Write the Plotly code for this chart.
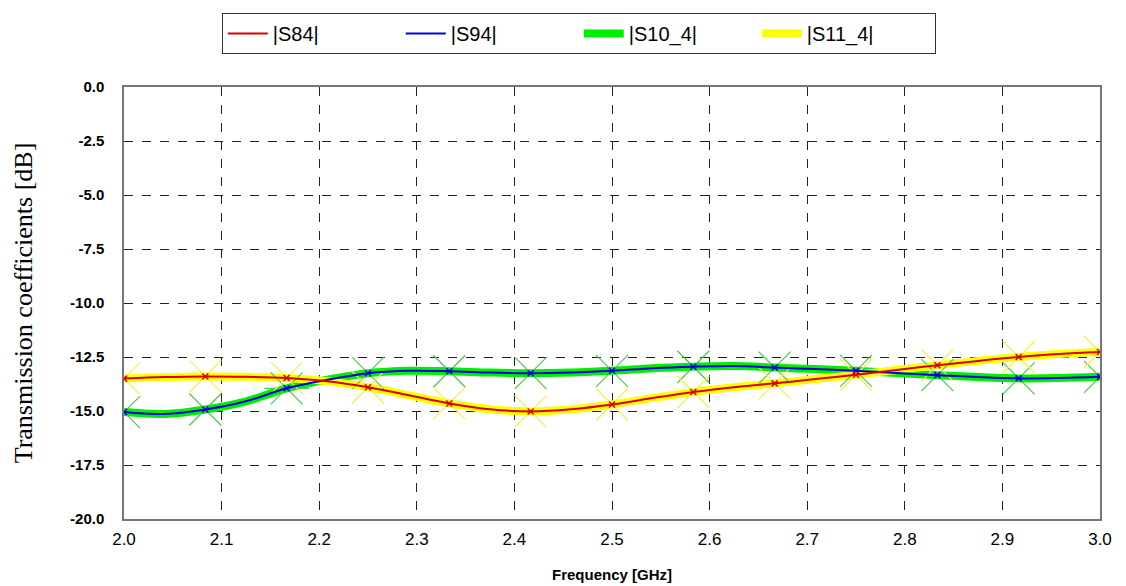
import plotly.graph_objects as go

freq = [2.0 + i / 24 for i in range(25)]
s84 = [-13.50, -13.43, -13.40, -13.42, -13.47, -13.62, -13.90, -14.27, -14.65, -14.92,
       -15.02, -14.92, -14.70, -14.40, -14.12, -13.90, -13.72, -13.52, -13.32, -13.10,
       -12.88, -12.68, -12.50, -12.36, -12.27]
s94 = [-15.05, -15.14, -14.93, -14.55, -13.95, -13.55, -13.25, -13.14, -13.16, -13.22,
       -13.25, -13.22, -13.14, -13.02, -12.95, -12.92, -12.99, -13.06, -13.14, -13.24,
       -13.34, -13.43, -13.49, -13.47, -13.42]
s10_4 = list(s94)
s11_4 = list(s84)

names = ["|S84|", "|S94|", "|S10_4|", "|S11_4|"]
xticks = [2.0, 2.1, 2.2, 2.3, 2.4, 2.5, 2.6, 2.7, 2.8, 2.9, 3.0]
yticks = [0.0, -2.5, -5.0, -7.5, -10.0, -12.5, -15.0, -17.5, -20.0]

fig = go.Figure()

fig.add_trace(go.Scatter(x=freq, y=s10_4, mode="lines", name=names[2], legendrank=3,
                         line=dict(color="#00ee00", width=8, shape="spline")))
fig.add_trace(go.Scatter(x=freq, y=s11_4, mode="lines", name=names[3], legendrank=4,
                         line=dict(color="#ffff00", width=8, shape="spline")))

mk_f = freq[::2]
for vals, col in [(s10_4[::2], "#4cc84c"), (s11_4[::2], "#f2f24a")]:
    for sym in ["x-thin-open", "line-ew-open"]:
        fig.add_trace(go.Scatter(x=mk_f, y=vals, mode="markers", showlegend=False, hoverinfo="skip",
                                 marker=dict(symbol=sym, size=32, color=col,
                                             line=dict(color=col, width=1.2))))

fig.add_trace(go.Scatter(x=freq, y=s94, mode="lines", name=names[1], legendrank=2,
                         line=dict(color="#0000dd", width=2, shape="spline")))
fig.add_trace(go.Scatter(x=freq, y=s84, mode="lines", name=names[0], legendrank=1,
                         line=dict(color="#dd0000", width=2, shape="spline")))
fig.add_trace(go.Scatter(x=mk_f, y=s94[::2], mode="markers", showlegend=False, hoverinfo="skip",
                         marker=dict(symbol="x-thin-open", size=6, color="#0000dd",
                                     line=dict(color="#0000dd", width=1.5))))
fig.add_trace(go.Scatter(x=mk_f, y=s84[::2], mode="markers", showlegend=False, hoverinfo="skip",
                         marker=dict(symbol="x-thin-open", size=6, color="#dd0000",
                                     line=dict(color="#dd0000", width=1.5))))

fig.update_layout(
    width=1126, height=586,
    margin=dict(l=124, r=26, t=87, b=67),
    paper_bgcolor="white", plot_bgcolor="white",
    showlegend=True,
    legend=dict(orientation="h", x=0.514, xanchor="center", xref="container",
                y=1 - 13 / 586, yanchor="top", yref="container",
                bordercolor="#333333", borderwidth=1,
                font=dict(family="Liberation Sans, Arial", size=20, color="black"),
                entrywidth=123, traceorder="normal", itemwidth=40),
    xaxis=dict(range=[2.0, 3.0], tickvals=xticks, ticktext=[f"{v:.1f}" for v in xticks],
               automargin=False,
               showgrid=True, gridcolor="#222222", griddash="dash", gridwidth=1,
               showline=True, linecolor="#777777", linewidth=1.5, mirror=True,
               ticks="", zeroline=False, ticklabelstandoff=4,
               tickfont=dict(family="Liberation Sans Narrow, Liberation Sans, Arial", size=17, color="black"),
               title=dict(text="<b>Frequency [GHz]</b>", standoff=21,
                          font=dict(family="Liberation Sans, Arial", size=15, color="black"))),
    yaxis=dict(range=[-20, 0], tickvals=yticks, ticktext=[f"<b>{v:.1f}</b>" for v in yticks],
               automargin=False,
               showgrid=True, gridcolor="#222222", griddash="dash", gridwidth=1,
               showline=True, linecolor="#777777", linewidth=1.5, mirror=True,
               ticks="", zeroline=False, ticklabelstandoff=15,
               tickfont=dict(family="Liberation Sans, Arial", size=15, color="black"),
               title=dict(text="Transmission coefficients [dB]", standoff=30,
                          font=dict(family="Liberation Serif, Times New Roman", size=26, color="black"))),
)

fig.write_html("out.html")
